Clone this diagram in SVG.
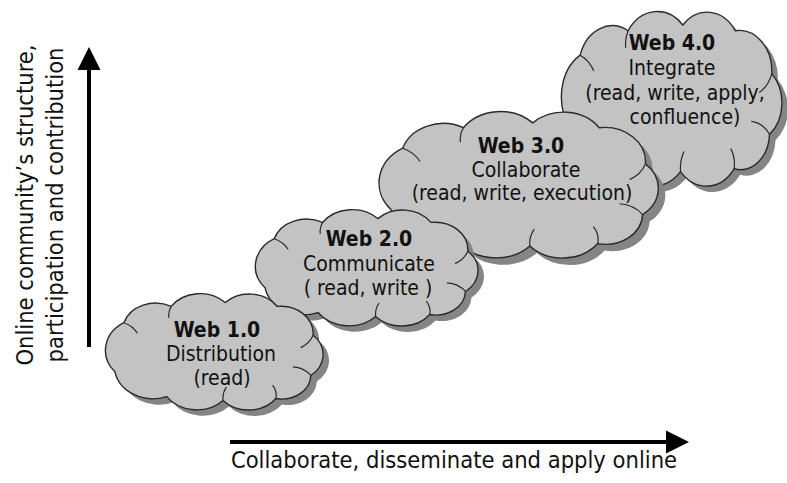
<svg xmlns="http://www.w3.org/2000/svg" xmlns:xlink="http://www.w3.org/1999/xlink" width="787" height="483" viewBox="0 0 787 483">
<style>
  .shadow { fill: #858585; }
  .cloud { fill: #c3c3c3; stroke: #2a2a2a; stroke-width: 1.4; }
  .inner { fill: none; stroke: #2a2a2a; stroke-width: 1.2; }
  text { font-family: "DejaVu Sans Condensed", "Liberation Sans", sans-serif; fill: #111; }
  .t { font-size: 21px; text-anchor: middle; }
  .b { font-weight: bold; }
  .ax { font-size: 23.5px; text-anchor: middle; }
  .axis { stroke: #000; stroke-width: 4; fill: none; }
</style>
<defs>
  <path id="cloudShape" vector-effect="non-scaling-stroke" d="M12,82 A33.5,33.5 0 0 1 20,31 A29.5,29.5 0 0 1 62,14 A31.3,31.3 0 0 1 110,10 A30,30 0 0 1 156,14 A28.5,28.5 0 0 1 188,44 A27.3,27.3 0 0 1 186,86 A25.5,25.5 0 0 1 155,110 A30.6,30.6 0 0 1 108,112 A32.6,32.6 0 0 1 58,108 A34.3,34.3 0 0 1 12,82 Z"/>
  <path id="cloudInner" vector-effect="non-scaling-stroke" d="M20,31 A24,24 0 0 1 32,42 M188,44 A24,24 0 0 1 177,57 M186,86 A22,22 0 0 0 170,77 M108,112 A24,24 0 0 1 111,98 M155,110 A20,20 0 0 0 152,96 M62,14 A20,20 0 0 0 60,26"/>
</defs>

<g id="web40">
  <use xlink:href="#cloudShape" class="shadow" transform="translate(563.3,16.6) scale(1.141,1.438)"/>
  <use xlink:href="#cloudShape" class="cloud" transform="translate(557.3,10.6) scale(1.141,1.438)"/>
  <use xlink:href="#cloudInner" class="inner" transform="translate(557.3,10.6) scale(1.141,1.438)"/>
  <text class="t b" x="672" y="50">Web 4.0</text>
  <text class="t" x="672" y="75">Integrate</text>
  <text class="t" x="675" y="100">(read, write, apply,</text>
  <text class="t" x="685" y="124">confluence)</text>
</g>

<g id="web30">
  <use xlink:href="#cloudShape" class="shadow" transform="translate(380.8,117.8) scale(1.445,1.207)"/>
  <use xlink:href="#cloudShape" class="cloud" transform="translate(373.8,110.8) scale(1.445,1.207)"/>
  <use xlink:href="#cloudInner" class="inner" transform="translate(373.8,110.8) scale(1.445,1.207)"/>
  <text class="t b" x="521" y="153">Web 3.0</text>
  <text class="t" x="526" y="177">Collaborate</text>
  <text class="t" x="522" y="200">(read, write, execution)</text>
</g>

<g id="web20">
  <use xlink:href="#cloudShape" class="shadow" transform="translate(257.2,215) scale(1.152,0.959)"/>
  <use xlink:href="#cloudShape" class="cloud" transform="translate(251.2,209) scale(1.152,0.959)"/>
  <use xlink:href="#cloudInner" class="inner" transform="translate(251.2,209) scale(1.152,0.959)"/>
  <text class="t b" x="369" y="246">Web 2.0</text>
  <text class="t" x="369" y="271">Communicate</text>
  <text class="t" x="368" y="295">( read, write )</text>
</g>

<g id="web10">
  <use xlink:href="#cloudShape" class="shadow" transform="translate(107.4,299) scale(1.126,0.959)"/>
  <use xlink:href="#cloudShape" class="cloud" transform="translate(101.4,293) scale(1.126,0.959)"/>
  <use xlink:href="#cloudInner" class="inner" transform="translate(101.4,293) scale(1.126,0.959)"/>
  <text class="t b" x="217" y="337">Web 1.0</text>
  <text class="t" x="221" y="361">Distribution</text>
  <text class="t" x="222" y="385">(read)</text>
</g>

<g id="connectors">
  <line class="axis" x1="89" y1="347" x2="89" y2="66"/>
  <polygon points="89,47 77.5,70 100.5,70" fill="#000"/>
  <line class="axis" x1="230" y1="442" x2="668" y2="442"/>
  <polygon points="689,442 666,430.5 666,453.5" fill="#000"/>
</g>

<g id="labels">
  <text class="ax" transform="translate(33,205) rotate(-90)">Online community’s structure,</text>
  <text class="ax" transform="translate(63,205) rotate(-90)">participation and contribution</text>
  <text class="ax" x="454" y="468">Collaborate, disseminate and apply online</text>
</g>
</svg>
